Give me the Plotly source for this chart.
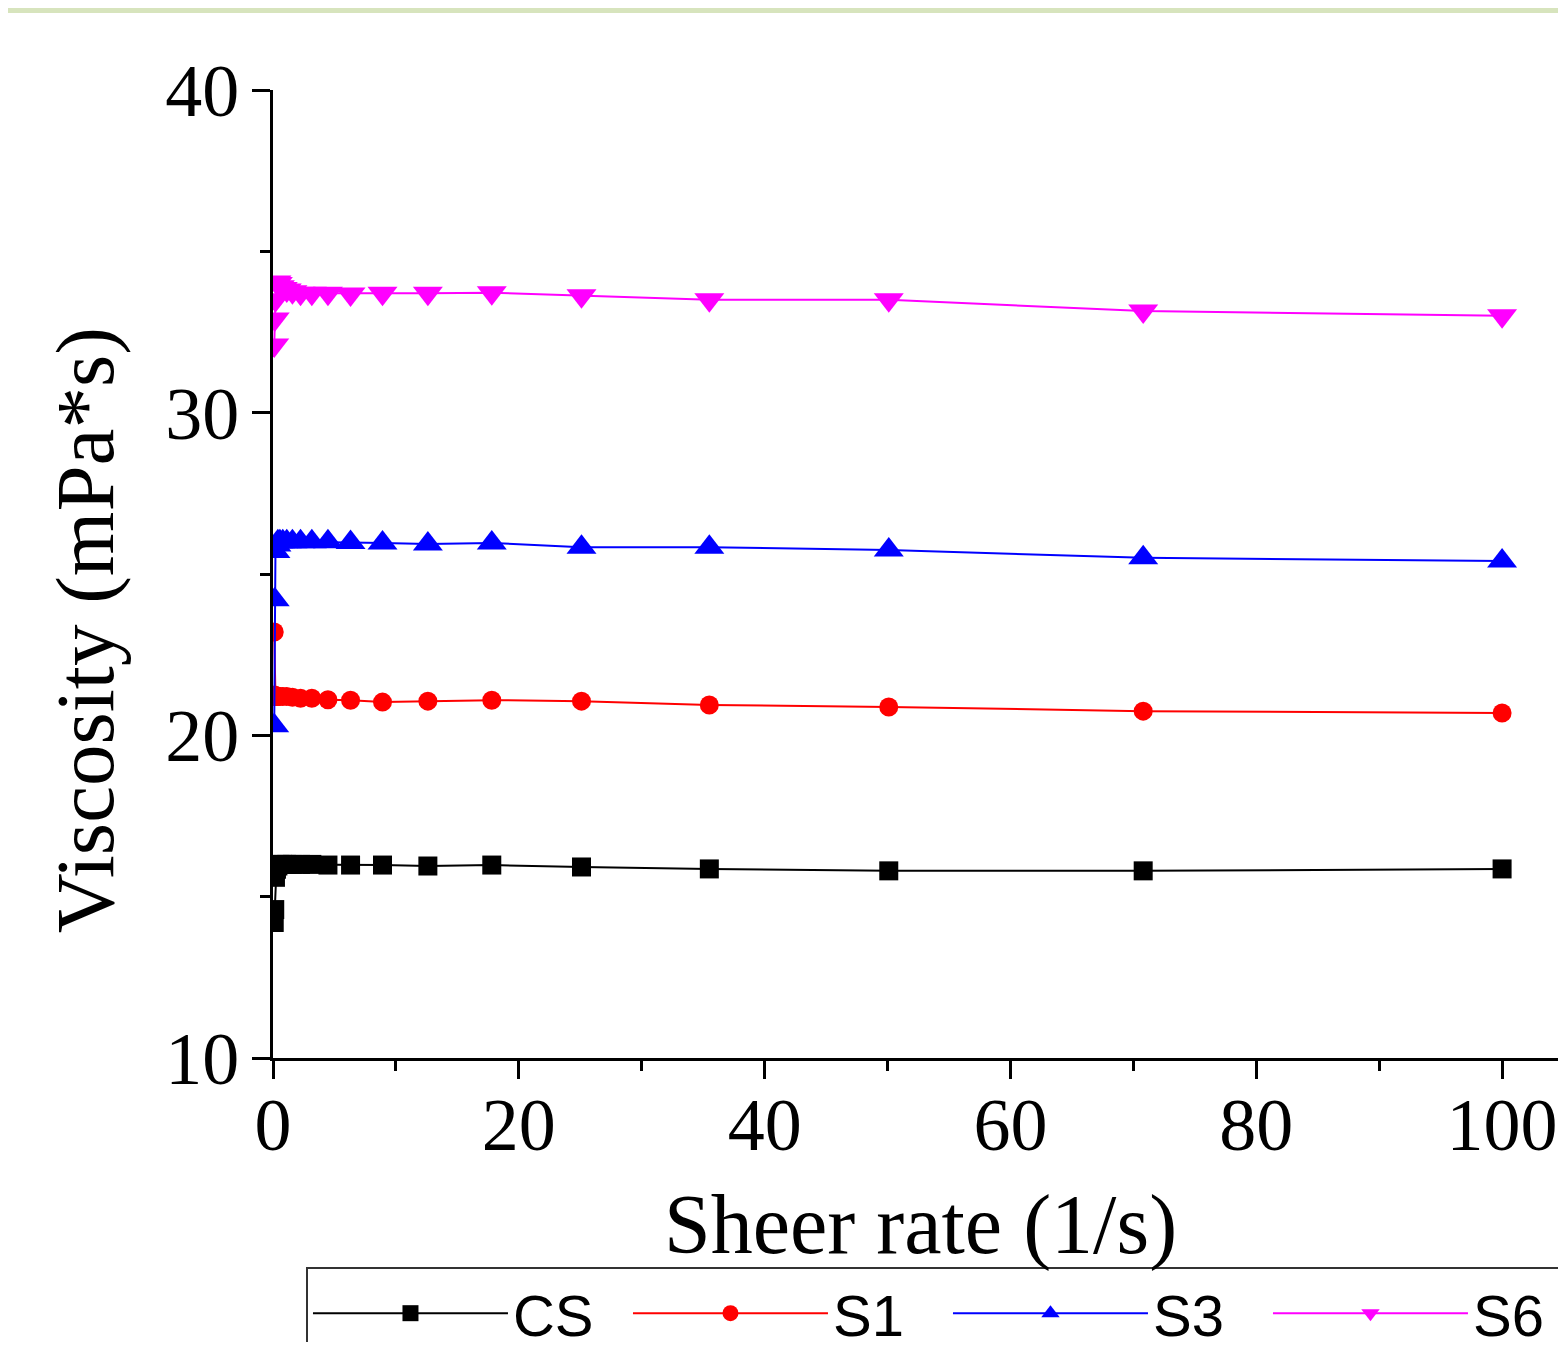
import plotly.graph_objects as go

# Shear rate (1/s)
shear_rate = [0.1, 0.141, 0.2, 0.282, 0.398, 0.562, 0.794, 1.12, 1.58, 2.24, 3.16,
              4.47, 6.31, 8.91, 12.6, 17.8, 25.1, 35.5, 50.1, 70.8, 100]

# Viscosity (mPa*s)
cs = [14.2, 14.6, 15.6, 15.85, 15.95, 16.0, 16.0, 16.0, 16.0, 16.0, 16.0,
      15.98, 15.98, 15.98, 15.95, 15.98, 15.92, 15.86, 15.8, 15.8, 15.86]
s1 = [23.2, 21.25, 21.2, 21.2, 21.2, 21.2, 21.2, 21.2, 21.18, 21.15, 21.15,
      21.1, 21.09, 21.03, 21.06, 21.09, 21.06, 20.94, 20.88, 20.75, 20.69]
s3 = [20.3, 24.2, 25.7, 25.9, 26.0, 26.0, 26.0, 26.0, 26.0, 26.0, 26.0,
      26.0, 25.98, 25.96, 25.93, 25.96, 25.83, 25.83, 25.74, 25.5, 25.4]
s6 = [32.1, 32.9, 33.5, 34.05, 34.0, 33.9, 33.85, 33.8, 33.75, 33.7, 33.7,
      33.7, 33.68, 33.7, 33.7, 33.72, 33.62, 33.5, 33.5, 33.15, 33.0]

names = ["CS", "S1", "S3", "S6"]
values = [cs, s1, s3, s6]
colors = ["black", "red", "blue", "magenta"]
symbols = ["square", "circle", "triangle-up", "triangle-down"]
sizes = [19, 19, 26, 26]

x_ticks = [0, 20, 40, 60, 80, 100]
x_minor = [10, 30, 50, 70, 90]
y_ticks = [10, 20, 30, 40]
y_minor = [15, 25, 35]

fig = go.Figure()
for n, v, c, s, sz in zip(names, values, colors, symbols, sizes):
    fig.add_trace(go.Scatter(
        x=shear_rate, y=v, name=n, mode="lines+markers",
        line=dict(color=c, width=2),
        marker=dict(symbol=s, size=sz, color=c, line=dict(width=0)),
    ))

serif = "Liberation Serif, Times New Roman, serif"
sans = "Liberation Sans, Arial, sans-serif"

axis_common = dict(
    showline=True, linewidth=3, linecolor="black", showgrid=False, zeroline=False,
    ticks="outside", ticklen=18, tickwidth=3, tickcolor="black",
    tickfont=dict(family=serif, size=74, color="black"),
)
fig.update_xaxes(range=[0, 105.2], tickvals=x_ticks,
                 minor=dict(tickvals=x_minor, ticks="outside", ticklen=10, tickwidth=3, tickcolor="black"),
                 ticklabelstandoff=-18, **axis_common)
fig.update_yaxes(range=[10, 40], tickvals=y_ticks,
                 minor=dict(tickvals=y_minor, ticks="outside", ticklen=10, tickwidth=3, tickcolor="black"),
                 ticklabelstandoff=-2, **axis_common)

fig.update_layout(
    width=1558, height=1334,
    margin=dict(l=265, r=0, t=82, b=284, autoexpand=False),
    plot_bgcolor="white", paper_bgcolor="white",
    showlegend=True,
    legend=dict(
        orientation="h", x=0.0255, y=-0.2159, xanchor="left", yanchor="top",
        font=dict(family=sans, size=58, color="black"),
        bordercolor="#333333", borderwidth=2, bgcolor="white",
        entrywidth=110, itemwidth=195,
    ),
    annotations=[
        dict(text="Viscosity (mPa*s)", textangle=-90, x=-0.1454, y=0.442,
             xref="paper", yref="paper", xanchor="center", yanchor="middle",
             showarrow=False, font=dict(family=serif, size=83, color="black")),
        dict(text="Sheer rate (1/s)", x=0.5004, y=-0.1725,
             xref="paper", yref="paper", xanchor="center", yanchor="middle",
             showarrow=False, font=dict(family=serif, size=84, color="black")),
    ],
    shapes=[
        dict(type="rect", xref="paper", yref="paper", x0=-0.3, x1=1.1,
             y0=1.0795, y1=1.2, fillcolor="#d7e4bd", line=dict(width=0), layer="below"),
    ],
)

fig.write_html("out.html")
